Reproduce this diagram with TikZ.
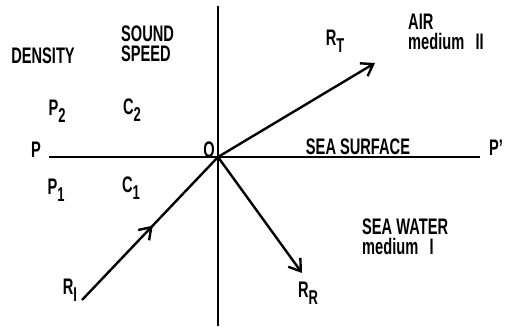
\documentclass[tikz,border=0pt]{standalone}
\usepackage{fontspec}
\setmainfont{Liberation Sans}[FakeStretch=0.65]
\usetikzlibrary{arrows.meta,decorations.markings}
\newcommand{\sbs}[1]{\raisebox{-7pt}{\fontsize{20}{20}\selectfont #1}}
\begin{document}
\begin{tikzpicture}[x=1pt,y=-1pt,
  ln/.style={line width=2.4pt},
  barb/.style={-{Straight Barb[length=11pt,width=15pt,line width=2.4pt]}},
  lbl/.style={font=\fontsize{22.5}{19}\selectfont\bfseries, inner sep=0pt},
  bl/.style={lbl, anchor=base west}]
\useasboundingbox (0,0) rectangle (514,329);
\coordinate (O) at (218,157);
\coordinate (vt) at (218,6);
\coordinate (vb) at (218,326);
\coordinate (hl) at (49,157);
\coordinate (hr) at (480,157);
\coordinate (rI) at (82,300);
\coordinate (rT) at (375,63);
\coordinate (rR) at (302,273);
\draw[ln] (vt) -- (vb);
\draw[ln] (hl) -- (hr);
\draw[ln, barb] (O) -- (rT);
\draw[ln, barb] (O) -- (rR);
\draw[ln, postaction={decorate}, decoration={markings, mark=at position 0.52 with {\arrow{Straight Barb[length=11pt,width=15pt,line width=2.4pt]}}}] (rI) -- (O);
\node[lbl] (dens) at (43,56) {DENSITY};
\node[bl] (ss1) at (121,42) {SOUND};
\node[bl] (ss2) at (121,62) {SPEED};
\node[lbl] (p2) at (57,111) {P\sbs{2}};
\node[lbl] (c2) at (132,110) {C\sbs{2}};
\node[lbl] (p) at (36,150) {P};
\node[lbl] (o) at (209,150) {O};
\node[lbl] (p1) at (56,190) {P\sbs{1}};
\node[lbl] (c1) at (131,188) {C\sbs{1}};
\node[lbl] (ri) at (70,290) {R\sbs{I}};
\node[lbl] (rt) at (335,41) {R\sbs{T}};
\node[bl] (air1) at (408,30) {AIR};
\node[bl] (air2) at (408,50) {medium\enspace II};
\node[lbl] (sea) at (358,147) {SEA SURFACE};
\node[lbl] (pp) at (496,148) {P'};
\node[bl] (sw1) at (362,234) {SEA WATER};
\node[bl] (sw2) at (362,254) {medium\enspace I};
\node[lbl] (rr) at (308,293) {R\sbs{R}};
\end{tikzpicture}
\end{document}
